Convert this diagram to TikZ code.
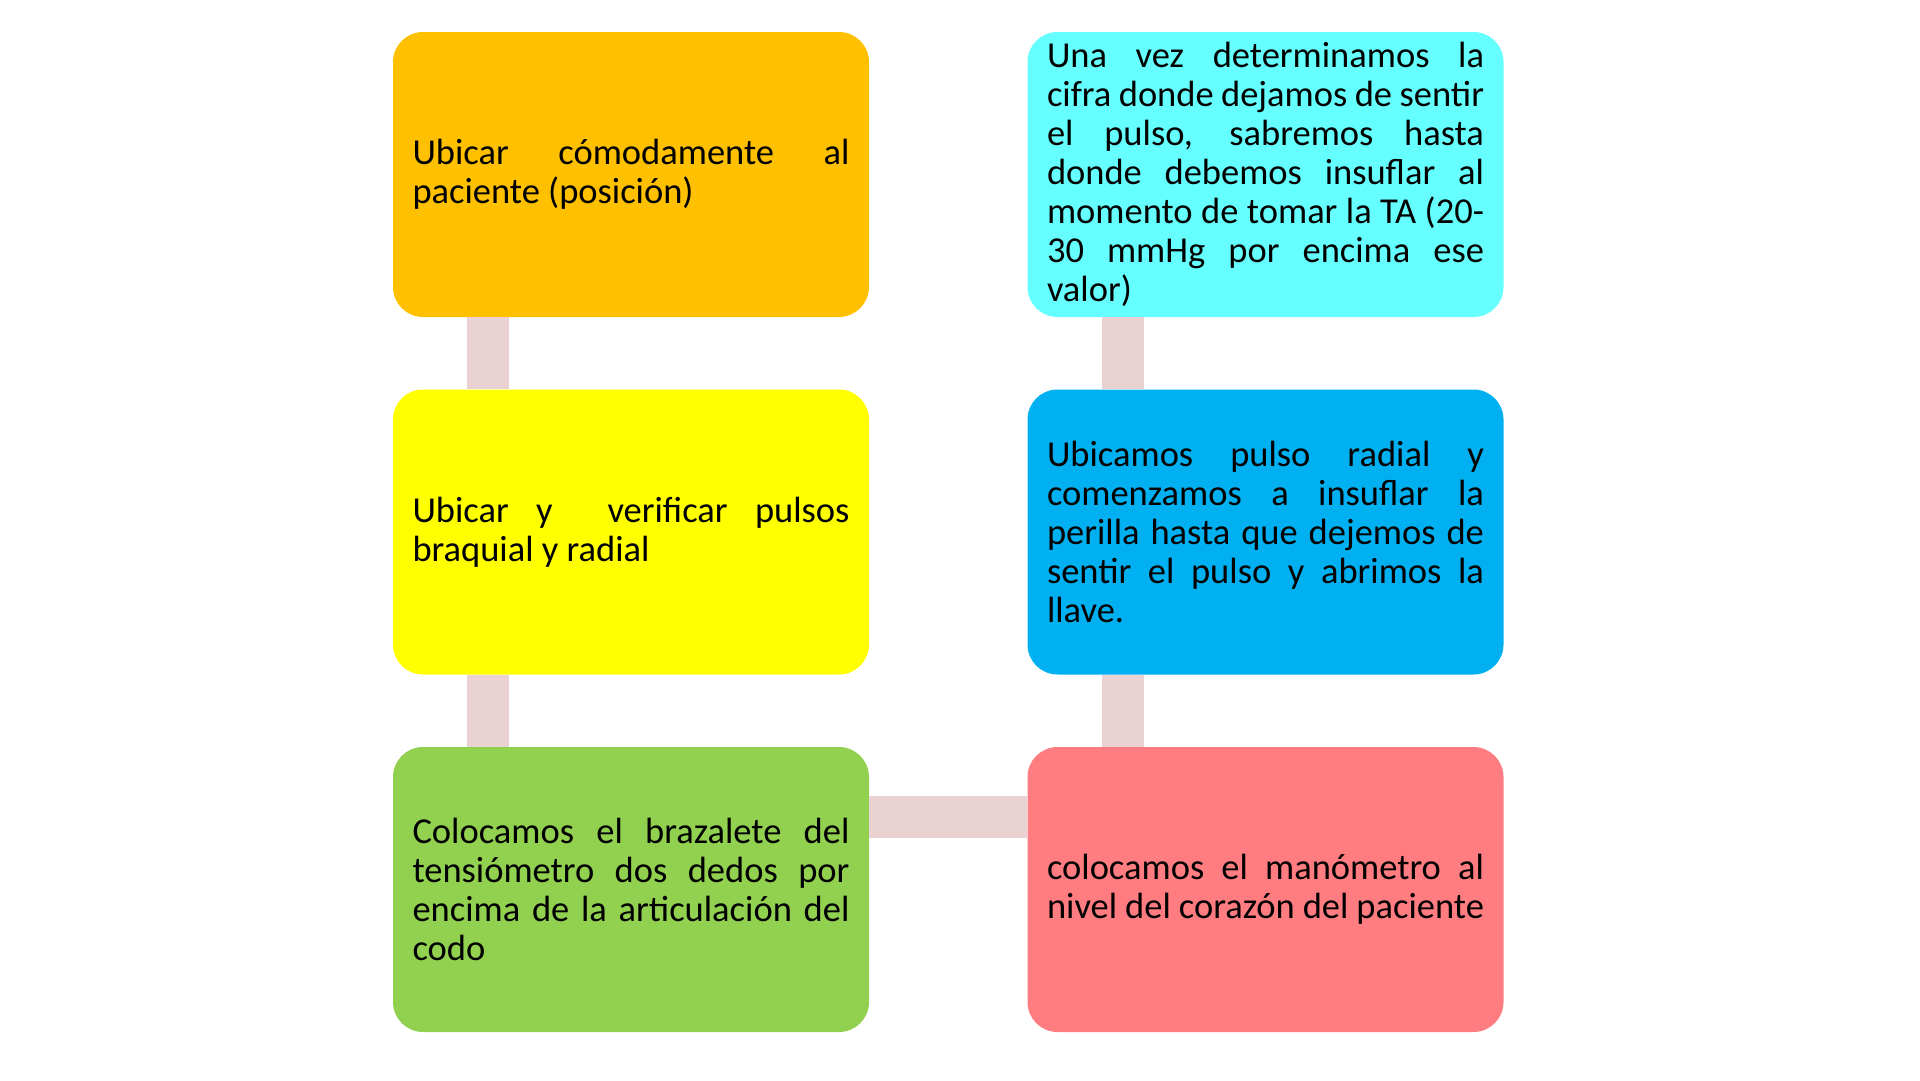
\documentclass[tikz,border=0pt]{standalone}
\usepackage{fontspec}
\setmainfont{Carlito}
\usetikzlibrary{calc}
\definecolor{cOrange}{HTML}{FFC000}
\definecolor{cYellow}{HTML}{FFFF00}
\definecolor{cGreen}{HTML}{92D050}
\definecolor{cCyan}{HTML}{66FFFF}
\definecolor{cBlue}{HTML}{00B0F0}
\definecolor{cRed}{HTML}{FF7C80}
\definecolor{cConn}{HTML}{EBD2D2}
\tikzset{
  stepbox/.style={rounded corners=30pt, minimum width=476pt, minimum height=285pt,
    text width=437pt, inner sep=0pt, align=justify, text=black,
    font=\fontsize{36.5}{39}\selectfont},
  conn/.style={draw=cConn, line width=42pt, line cap=butt}
}
\begin{document}
\begin{tikzpicture}[x=1pt, y=-1pt]
\useasboundingbox[fill=white] (0,0) rectangle (1920,1080);
\node[stepbox, fill=cOrange] (A) at (631,174.5) {Ubicar cómodamente al\linebreak paciente (posición)};
\node[stepbox, fill=cYellow] (B) at (631,532) {Ubicar y \ verificar pulsos\linebreak braquial y radial};
\node[stepbox, fill=cGreen] (C) at (631,889.5) {Colocamos el brazalete del\linebreak tensiómetro dos dedos por\linebreak encima de la articulación del\linebreak codo};
\node[stepbox, fill=cRed] (D) at (1265.5,889.5) {colocamos el manómetro al\linebreak nivel del corazón del paciente};
\node[stepbox, fill=cBlue] (E) at (1265.5,532) {Ubicamos pulso radial y\linebreak comenzamos a insuflar la\linebreak perilla hasta que dejemos de\linebreak sentir el pulso y abrimos la\linebreak llave.};
\node[stepbox, fill=cCyan] (F) at (1265.5,174.5) {Una vez determinamos la\linebreak cifra donde dejamos de sentir\linebreak el pulso, sabremos hasta\linebreak donde debemos insuflar al\linebreak momento de tomar la TA (20-\linebreak 30 mmHg por encima ese\linebreak valor)};
% connectors
\draw[conn] ($(A.south west)+(95,0)$) -- ($(B.north west)+(95,0)$);
\draw[conn] ($(B.south west)+(95,0)$) -- ($(C.north west)+(95,0)$);
\draw[conn] ($(F.south west)+(96,0)$) -- ($(E.north west)+(96,0)$);
\draw[conn] ($(E.south west)+(96,0)$) -- ($(D.north west)+(96,0)$);
\draw[conn] ($(C.east)+(0,-72.5)$) -- ($(D.west)+(0,-72.5)$);
\end{tikzpicture}
\end{document}
